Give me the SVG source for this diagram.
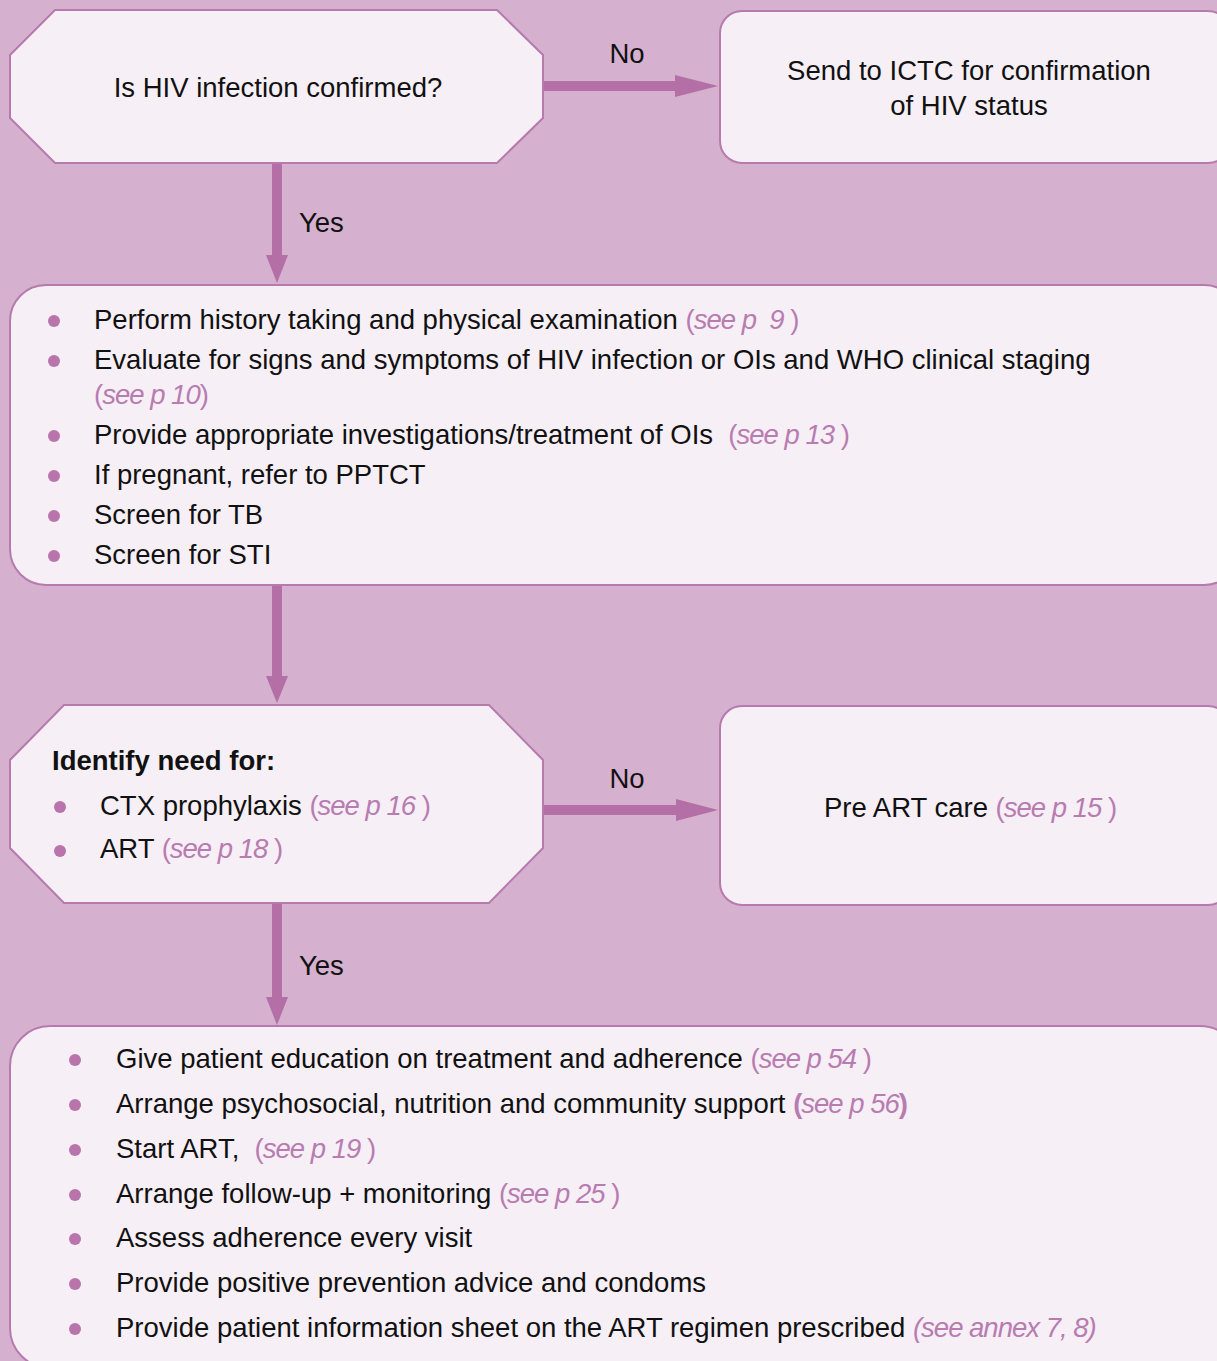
<svg xmlns="http://www.w3.org/2000/svg" width="1217" height="1361" viewBox="0 0 1217 1361">
  <style>
    .node { fill: #f6eff6; stroke: #b77aad; stroke-width: 2; }
    .arrow { fill: #b36fa6; }
    .t { font-family: "Liberation Sans", Arial, sans-serif; font-size: 27.5px; fill: #111; white-space: pre; }
    .b { font-weight: bold; }
    .c { text-anchor: middle; }
    .ref { fill: #b87cb1; letter-spacing: -1px; }
    .it { font-style: italic; }
    .dot { fill: #b874ab; }
  </style>

  <rect x="0" y="0" width="1217" height="1361" fill="#d5b0cf"/>

  <!-- flow arrows -->
  <g id="connectors">
    <path class="arrow" d="M543,81 H675 V75 L718,86 L675,97 V91 H543 Z"/>
    <path class="arrow" d="M272,163 V255 H266 L277,283 L288,255 H282 V163 Z"/>
    <path class="arrow" d="M272,586 V676 H266 L277,703 L288,676 H282 V586 Z"/>
    <path class="arrow" d="M543,805 H676 V799 L718,810 L676,821 V815 H543 Z"/>
    <path class="arrow" d="M272,904 V997 H266 L277,1025 L288,997 H282 V904 Z"/>
    <text class="t c" x="627" y="63">No</text>
    <text class="t" x="299" y="232">Yes</text>
    <text class="t c" x="627" y="788">No</text>
    <text class="t" x="299" y="975">Yes</text>
  </g>

  <!-- decision: HIV confirmed -->
  <g id="decision-confirmed">
    <polygon class="node" points="55,10 497,10 543,55 543,118 497,163 55,163 10,118 10,55"/>
    <text class="t c" x="278" y="97">Is HIV infection confirmed?</text>
  </g>

  <!-- send to ICTC -->
  <g id="send-ictc">
    <rect class="node" x="720" y="11" width="510" height="152" rx="22"/>
    <text class="t c" x="969" y="80">Send to ICTC for confirmation</text>
    <text class="t c" x="969" y="115">of HIV status</text>
  </g>

  <!-- initial assessment -->
  <g id="assessment">
    <rect class="node" x="10" y="285" width="1230" height="300" rx="36"/>
    <circle class="dot" cx="54" cy="321" r="6"/>
    <text class="t" x="94" y="329">Perform history taking and physical examination <tspan class="ref">(<tspan class="it">see p  9</tspan> )</tspan></text>
    <circle class="dot" cx="54" cy="361" r="6"/>
    <text class="t" x="94" y="369">Evaluate for signs and symptoms of HIV infection or OIs and WHO clinical staging</text>
    <text class="t ref" x="94" y="404">(<tspan class="it">see p 10</tspan>)</text>
    <circle class="dot" cx="54" cy="436" r="6"/>
    <text class="t" x="94" y="444">Provide appropriate investigations/treatment of OIs  <tspan class="ref">(<tspan class="it">see p 13</tspan> )</tspan></text>
    <circle class="dot" cx="54" cy="476" r="6"/>
    <text class="t" x="94" y="484">If pregnant, refer to PPTCT</text>
    <circle class="dot" cx="54" cy="516" r="6"/>
    <text class="t" x="94" y="524">Screen for TB</text>
    <circle class="dot" cx="54" cy="556" r="6"/>
    <text class="t" x="94" y="564">Screen for STI</text>
  </g>

  <!-- decision: identify need -->
  <g id="decision-need">
    <polygon class="node" points="64,705 489,705 543,760 543,848 489,903 64,903 10,848 10,760"/>
    <text class="t b" x="52" y="770">Identify need for:</text>
    <circle class="dot" cx="60" cy="807" r="6"/>
    <text class="t" x="100" y="815">CTX prophylaxis <tspan class="ref">(<tspan class="it">see p 16</tspan> )</tspan></text>
    <circle class="dot" cx="60" cy="851" r="6"/>
    <text class="t" x="100" y="858">ART <tspan class="ref">(<tspan class="it">see p 18</tspan> )</tspan></text>
  </g>

  <!-- pre ART care -->
  <g id="pre-art">
    <rect class="node" x="720" y="706" width="510" height="199" rx="22"/>
    <text class="t c" x="970" y="817">Pre ART care <tspan class="ref">(<tspan class="it">see p 15</tspan> )</tspan></text>
  </g>

  <!-- start ART -->
  <g id="start-art">
    <rect class="node" x="10" y="1026" width="1230" height="342" rx="40"/>
    <circle class="dot" cx="75" cy="1060" r="6"/>
    <text class="t" x="116" y="1068">Give patient education on treatment and adherence <tspan class="ref">(<tspan class="it">see p 54</tspan> )</tspan></text>
    <circle class="dot" cx="75" cy="1105" r="6"/>
    <text class="t" x="116" y="1113">Arrange psychosocial, nutrition and community support <tspan class="ref"><tspan class="b">(</tspan><tspan class="it">see p 56</tspan><tspan class="b">)</tspan></tspan></text>
    <circle class="dot" cx="75" cy="1150" r="6"/>
    <text class="t" x="116" y="1158">Start ART,  <tspan class="ref">(<tspan class="it">see p 19</tspan> )</tspan></text>
    <circle class="dot" cx="75" cy="1195" r="6"/>
    <text class="t" x="116" y="1203">Arrange follow-up + monitoring <tspan class="ref">(<tspan class="it">see p 25</tspan> )</tspan></text>
    <circle class="dot" cx="75" cy="1239" r="6"/>
    <text class="t" x="116" y="1247">Assess adherence every visit</text>
    <circle class="dot" cx="75" cy="1284" r="6"/>
    <text class="t" x="116" y="1292">Provide positive prevention advice and condoms</text>
    <circle class="dot" cx="75" cy="1329" r="6"/>
    <text class="t" x="116" y="1337">Provide patient information sheet on the ART regimen prescribed <tspan class="ref it">(see annex 7, 8)</tspan></text>
  </g>
</svg>
